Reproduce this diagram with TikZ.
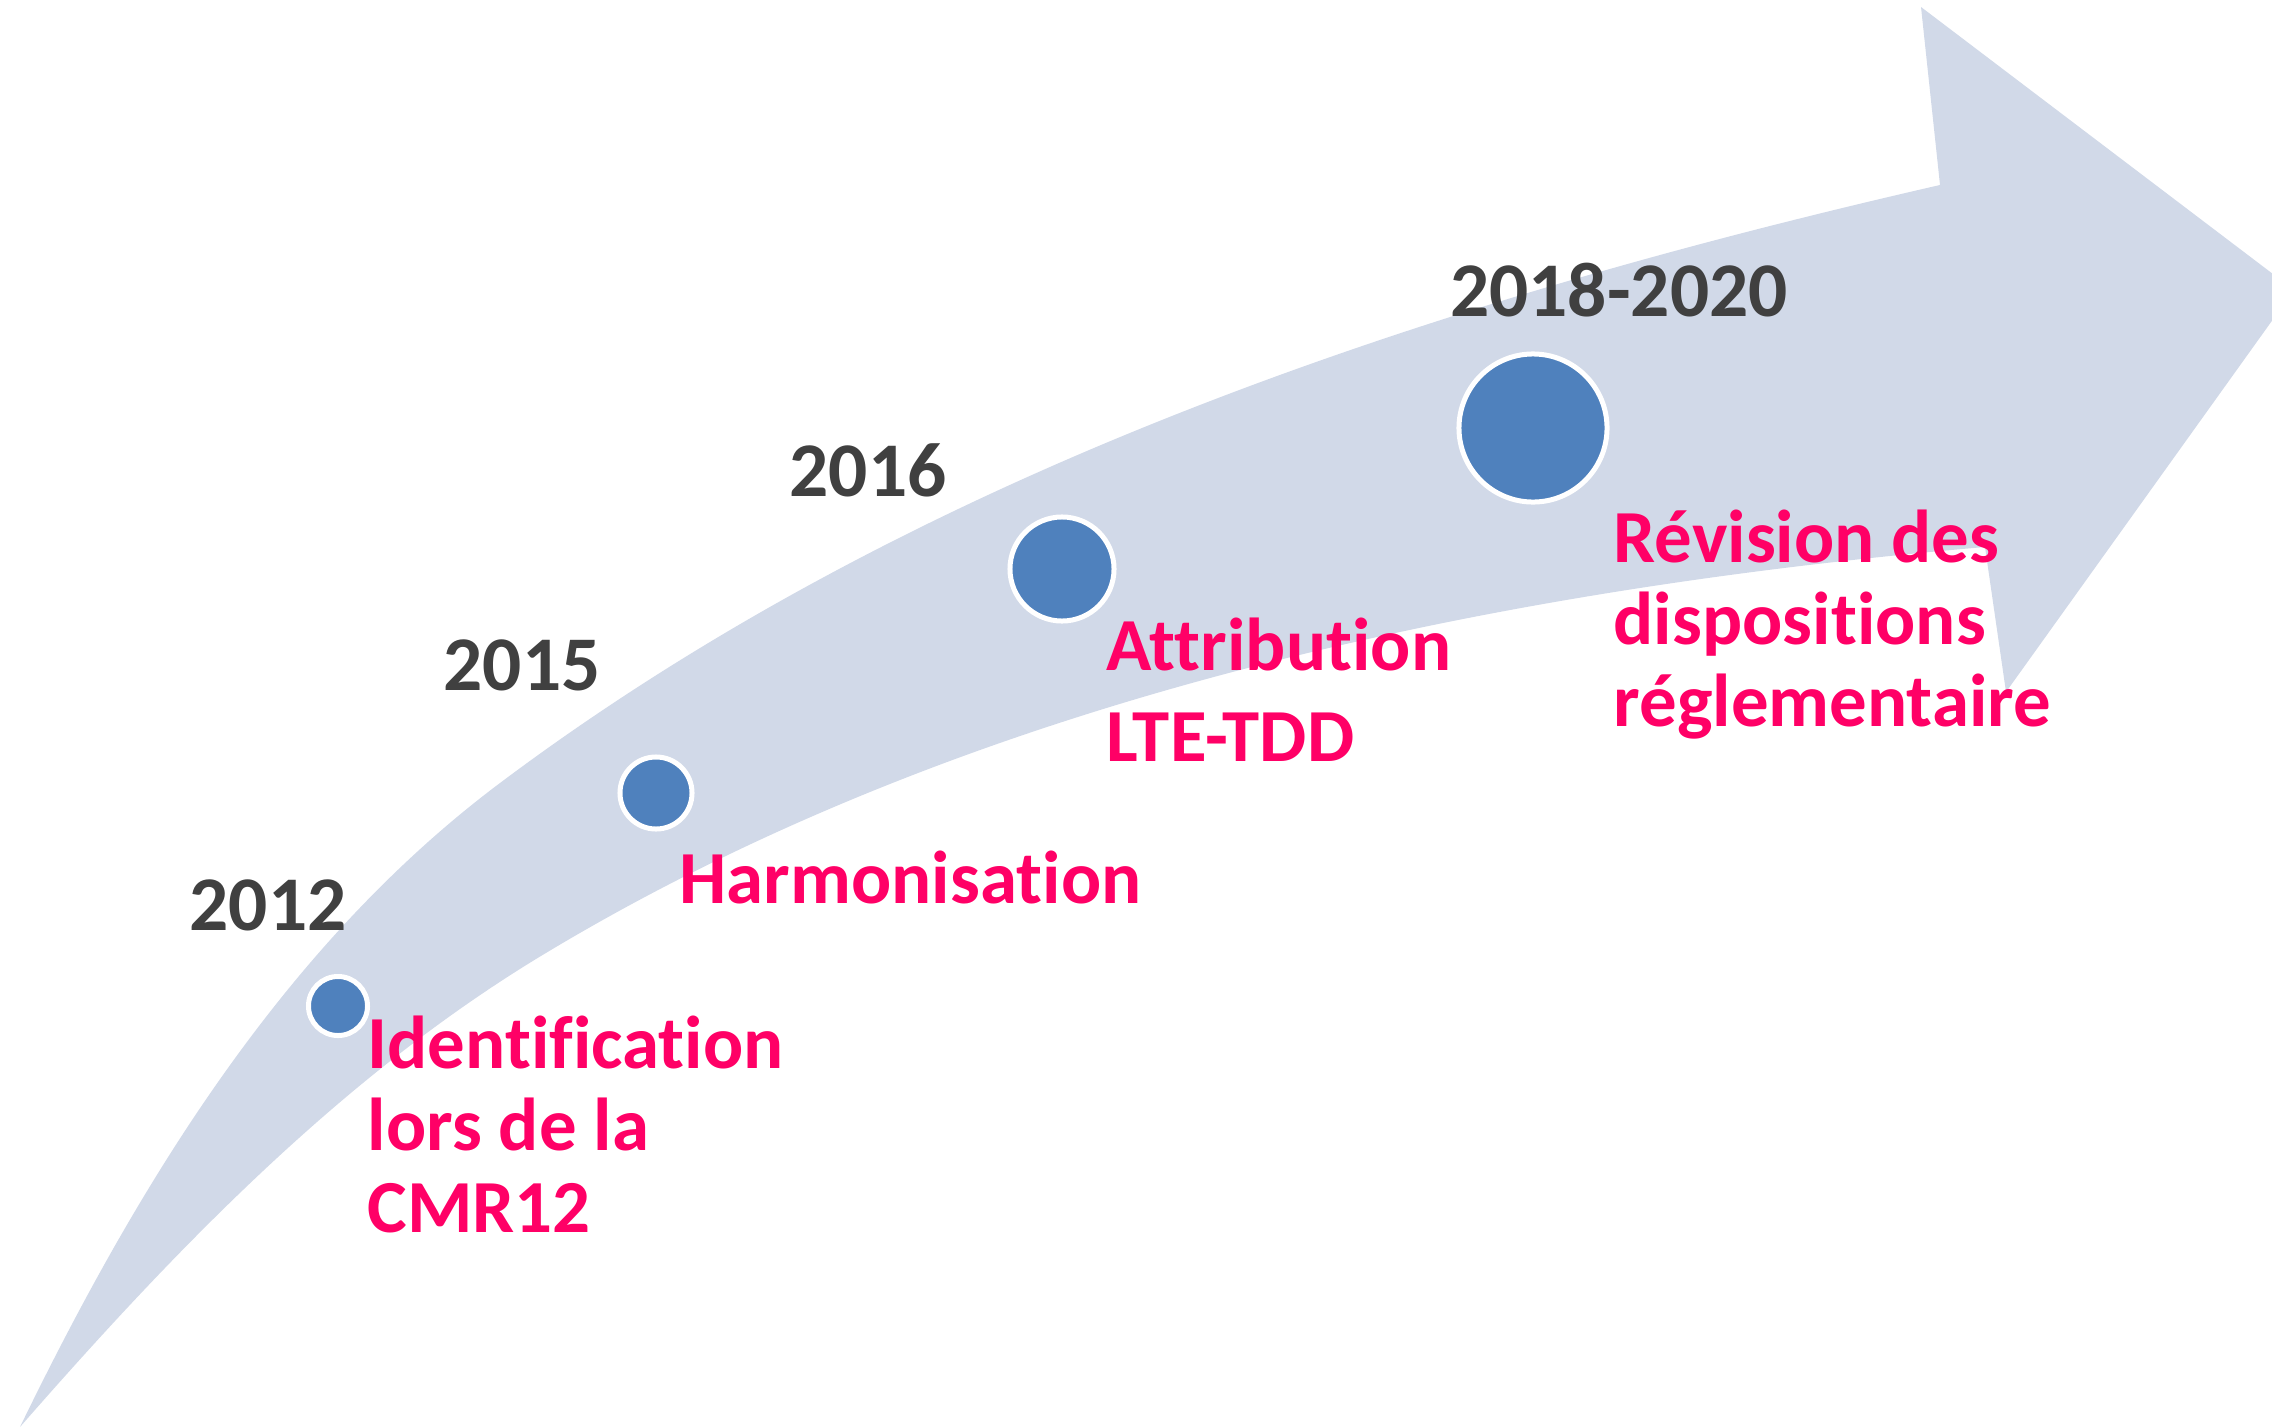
\documentclass[tikz,border=0pt]{standalone}
\usepackage{fontspec}
\setmainfont{Carlito}[Ligatures=NoCommon]
\usepackage{xcolor}
\usepackage{tikz}

\definecolor{bandblue}{HTML}{D1D9E8}
\definecolor{dotblue}{HTML}{4F81BD}
\definecolor{yeargray}{HTML}{404040}
\definecolor{eventpink}{HTML}{FF0066}

\begin{document}
\begin{tikzpicture}[
  x=0.01cm,
  y=-0.01cm,
  band/.style={
    fill=bandblue,
  },
  dot/.style={
    circle,
    draw=white,
    line width=0.05cm,
    fill=dotblue,
    inner sep=0pt,
  },
  year/.style={
    text=yeargray,
    font=\fontsize{22}{26}\selectfont\bfseries,
    inner sep=0pt,
  },
  event/.style={
    text=eventpink,
    font=\fontsize{21.3}{23.2}\selectfont\bfseries,
    align=left,
    anchor=base west,
    inner sep=0pt,
  },
]

% ===== FRAME =====
\useasboundingbox (0,0) rectangle (2272,1427);
\clip (0,0) rectangle (2272,1427);

% ===== CURVED BAND WITH ARROW HEAD =====
\fill[band] (20,1427)
  .. controls (138,1184) and (284,945) .. (500,783)
  .. controls (916,471) and (1433,301) .. (1940,185)
  -- (1921,7) -- (2294,290) -- (2006,692) -- (1985,547)
  .. controls (1487,590) and (963,699) .. (536,959)
  .. controls (338,1080) and (173,1252) .. (20,1427)
  -- cycle;

% ===== MILESTONE DOTS =====
\node[dot, minimum size=0.59cm] (d12) at (338,1006) {};
\node[dot, minimum size=0.72cm] (d15) at (656,793) {};
\node[dot, minimum size=1.04cm] (d16) at (1062,569) {};
\node[dot, minimum size=1.48cm] (d18) at (1533,428) {};

% ===== YEARS =====
\node[year] (y12) at (268,905) {2012};
\node[year] (y15) at (522,665) {2015};
\node[year] (y16) at (868,470) {2016};
\node[year] (y18) at (1619,290) {2018-2020};

% ===== EVENTS (anchored on the last line) =====
\node[event] (e12) at (367,1232) {
  Identification\\
  lors de la\\
  CMR12
};

\node[event] (e15) at (679,903) {
  Harmonisation
};

\node[event] (e16) at (1106,761) {
  Attribution\\[2.4pt]
  LTE-TDD
};

\node[event] (e18) at (1613,726) {
  Révision des\\
  dispositions\\
  réglementaire
};

\end{tikzpicture}
\end{document}
